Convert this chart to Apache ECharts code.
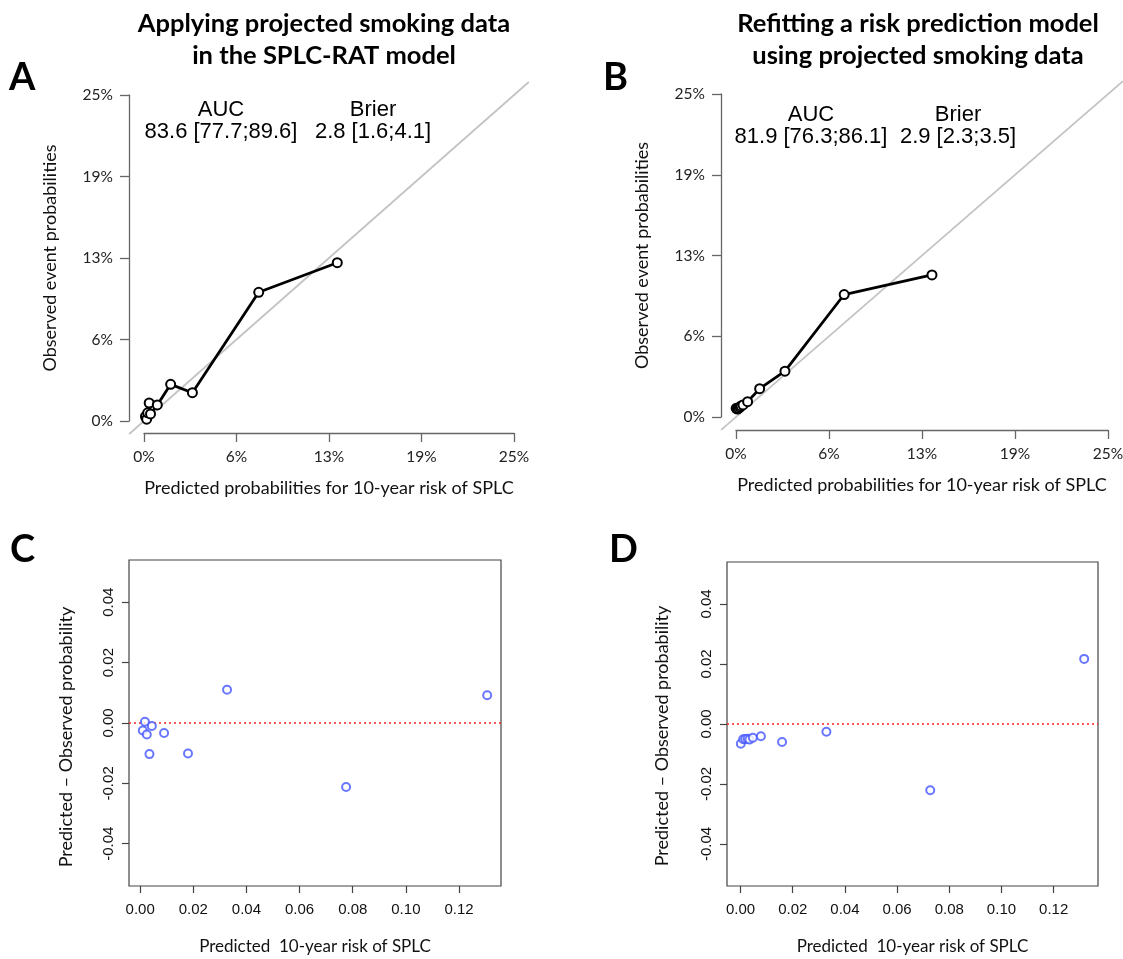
<!DOCTYPE html>
<html>
<head>
<meta charset="utf-8">
<script src="https://cdn.jsdelivr.net/npm/echarts@6/dist/echarts.min.js"></script>
<style>
  html, body { margin: 0; padding: 0; background: #fff; }
  #chart { width: 1123px; height: 959px; }
</style>
</head>
<body>
<div id="chart"></div>
<script>
// Panel A: SPLC-RAT model applied to projected smoking data (calibration by risk group)
const predA = [0.0010, 0.0018, 0.0025, 0.0035, 0.0044, 0.0090, 0.0180, 0.0327, 0.0775, 0.1306];
const obsA  = [0.0035, 0.0014, 0.0063, 0.0138, 0.0054, 0.0123, 0.0281, 0.0217, 0.0987, 0.1214];
// Panel C: predicted minus observed for the same groups
const diffA = [-0.0025, 0.0004, -0.0038, -0.0103, -0.0010, -0.0033, -0.0101, 0.0110, -0.0212, 0.0092];

// Panel B: refitted model
const predB = [0.0001, 0.0010, 0.0018, 0.0027, 0.0034, 0.0047, 0.0078, 0.0159, 0.0329, 0.0727, 0.1317];
const obsB  = [0.0067, 0.0061, 0.0068, 0.0076, 0.0086, 0.0093, 0.0119, 0.0219, 0.0355, 0.0948, 0.1100];
// Panel D: predicted minus observed
const diffB = [-0.0066, -0.0051, -0.0050, -0.0049, -0.0052, -0.0046, -0.0041, -0.0060, -0.0026, -0.0221, 0.0217];

// Reference diagonal (perfect calibration), spanning the padded plot region
const diagonal = [-0.01, 0.26];

// Axis ranges of the residual panels (data range plus 4% padding)
const residXRangeC = [-0.0042, 0.1358];
const residXRangeD = [-0.0052, 0.1370];
const residYRange = [-0.054, 0.054];

// Tick values
const residXTicks = [0, 0.02, 0.04, 0.06, 0.08, 0.10, 0.12];
const residYTicks = [-0.04, -0.02, 0.00, 0.02, 0.04];

// Header texts
const titleA = ['Applying projected smoking data', 'in the SPLC-RAT model'];
const titleB = ['Refitting a risk prediction model', 'using projected smoking data'];
const statsA = { auc: '83.6 [77.7;89.6]', brier: '2.8 [1.6;4.1]' };
const statsB = { auc: '81.9 [76.3;86.1]', brier: '2.9 [2.3;3.5]' };
const residYTitle = 'Predicted \u2013 Observed probability';

const zip = (xs, ys) => xs.map((x, i) => [x, ys[i]]);
const pct = v => Math.round(v * 100) + '%';

const CAL = 'Lato, "Open Sans", sans-serif';
const ARIAL = '"Liberation Sans", Arial, sans-serif';
const axisGrey = '#666';
const pointBlue = '#4455ff';

function calibXAxis(gridIndex, offset) {
  return {
    type: 'value', gridIndex, min: 0, max: 0.25, interval: 0.0625, offset,
    name: 'Predicted probabilities for 10-year risk of SPLC',
    nameLocation: 'middle', nameGap: 46,
    nameTextStyle: { fontFamily: CAL, fontSize: 18, color: '#111' },
    axisLine: { show: true, onZero: false, lineStyle: { color: axisGrey, width: 1.3 } },
    axisTick: { show: true, length: 9, lineStyle: { color: axisGrey, width: 1.3 } },
    axisLabel: { formatter: pct, fontFamily: CAL, fontSize: 15.5, color: '#222', margin: 16 },
    splitLine: { show: false }
  };
}
function calibYAxis(gridIndex, offset) {
  return {
    type: 'value', gridIndex, min: 0, max: 0.25, interval: 0.0625, offset,
    name: 'Observed event probabilities',
    nameLocation: 'middle', nameGap: 70, nameRotate: 90,
    nameTextStyle: { fontFamily: CAL, fontSize: 18, color: '#111' },
    axisLine: { show: true, onZero: false, lineStyle: { color: axisGrey, width: 1.3 } },
    axisTick: { show: true, length: 9, lineStyle: { color: axisGrey, width: 1.3 } },
    axisLabel: { formatter: pct, fontFamily: CAL, fontSize: 15.5, color: '#222', margin: 16 },
    splitLine: { show: false }
  };
}
function residXAxis(gridIndex, range) {
  return {
    type: 'value', gridIndex, min: range[0], max: range[1],
    name: 'Predicted  10-year risk of SPLC',
    nameLocation: 'middle', nameGap: 52,
    nameTextStyle: { fontFamily: CAL, fontSize: 17, color: '#111' },
    axisLine: { show: false, onZero: false },
    axisTick: { show: true, length: 7, customValues: residXTicks, lineStyle: { color: '#444', width: 1.2 } },
    axisLabel: { customValues: residXTicks, formatter: v => v.toFixed(2), fontFamily: ARIAL, fontSize: 15, color: '#111', margin: 16 },
    splitLine: { show: false }
  };
}
function residYAxis(gridIndex) {
  return {
    type: 'value', gridIndex, min: residYRange[0], max: residYRange[1],
    axisLine: { show: false, onZero: false },
    axisTick: { show: true, length: 7, customValues: residYTicks, lineStyle: { color: '#444', width: 1.2 } },
    axisLabel: { customValues: residYTicks, formatter: v => v.toFixed(2), rotate: 90, fontFamily: ARIAL, fontSize: 15, color: '#111', margin: 13 },
    splitLine: { show: false }
  };
}

function calibSeries(idx, xs, ys) {
  return {
    type: 'line', xAxisIndex: idx, yAxisIndex: idx, clip: false,
    data: zip(xs, ys), symbol: 'emptyCircle', symbolSize: 9, showAllSymbol: true,
    lineStyle: { color: '#000', width: 2.8 },
    itemStyle: { color: '#000', borderWidth: 2.6 }, z: 3
  };
}
function residSeries(idx, xs, ds) {
  return {
    type: 'scatter', xAxisIndex: idx, yAxisIndex: idx, clip: false,
    data: zip(xs, ds), symbol: 'emptyCircle', symbolSize: 8,
    itemStyle: { color: pointBlue, borderWidth: 1.3 }, z: 3
  };
}
// Horizontal zero reference in the residual panels
function zeroLine(idx, range) {
  return {
    type: 'line', xAxisIndex: idx, yAxisIndex: idx, silent: true,
    data: [[range[0], 0], [range[1], 0]], symbol: 'none',
    itemStyle: { color: '#ff2020' },
    lineStyle: { color: '#ff2020', type: [2, 3], width: 1.3 }, z: 2
  };
}

function text(t, x, y, font, extra) {
  return Object.assign({
    type: 'text', x, y,
    style: { text: t, font, textAlign: 'center', textVerticalAlign: 'middle', fill: '#000' }
  }, extra || {});
}
function letter(t, x, y) {
  return {
    type: 'text', x, y,
    style: {
      text: t, font: 'bold 38px ' + CAL, textAlign: 'left', textVerticalAlign: 'middle', fill: '#000',
      shadowColor: 'rgba(0,0,0,0.55)', shadowBlur: 3, shadowOffsetX: 1.5, shadowOffsetY: 1.5
    }
  };
}
function vtext(t, x, y, font) {
  return {
    type: 'text', x, y, rotation: Math.PI / 2,
    style: { text: t, font, textAlign: 'center', textVerticalAlign: 'middle', fill: '#111' }
  };
}

const titleFont = 'bold 25.5px ' + CAL;
const statFont = '22px ' + ARIAL;
const residTitleFont = '18px ' + CAL;

const option = {
  animation: false,
  backgroundColor: '#fff',
  grid: [
    { left: 144, top: 95, width: 370, height: 326, outerBoundsMode: 'none' },
    { left: 736, top: 94, width: 372, height: 323, outerBoundsMode: 'none' },
    { left: 129, top: 560, width: 372, height: 326, show: true, borderColor: '#444', borderWidth: 1.2, outerBoundsMode: 'none' },
    { left: 727, top: 562, width: 371, height: 324, show: true, borderColor: '#444', borderWidth: 1.2, outerBoundsMode: 'none' }
  ],
  xAxis: [
    calibXAxis(0, 12),
    calibXAxis(1, 13),
    residXAxis(2, residXRangeC),
    residXAxis(3, residXRangeD)
  ],
  yAxis: [
    calibYAxis(0, 15),
    calibYAxis(1, 15),
    residYAxis(2),
    residYAxis(3)
  ],
  series: [
    calibSeries(0, predA, obsA),
    calibSeries(1, predB, obsB),
    zeroLine(2, residXRangeC),
    zeroLine(3, residXRangeD),
    residSeries(2, predA, diffA),
    residSeries(3, predB, diffB)
  ],
  graphic: [
    text(titleA[0], 324, 24, titleFont),
    text(titleA[1], 324, 56, titleFont),
    text(titleB[0], 918, 24, titleFont),
    text(titleB[1], 918, 56, titleFont),
    letter('A', 9, 78),
    letter('B', 603, 78),
    letter('C', 10, 550),
    letter('D', 609, 550),
    text('AUC', 221, 110, statFont),
    text(statsA.auc, 221, 132, statFont),
    text('Brier', 373, 110, statFont),
    text(statsA.brier, 373, 132, statFont),
    text('AUC', 811, 115, statFont),
    text(statsB.auc, 811, 137, statFont),
    text('Brier', 958, 115, statFont),
    text(statsB.brier, 958, 137, statFont),
    vtext(residYTitle, 66, 737, residTitleFont),
    vtext(residYTitle, 662, 736, residTitleFont)
  ]
};

const chart = echarts.init(document.getElementById('chart'), null, { renderer: 'canvas' });
chart.setOption(option);

// Identity line for panels A and B, placed through each grid's own scale
const diagLines = [0, 1].map(g => {
  const p0 = chart.convertToPixel({ gridIndex: g }, [diagonal[0], diagonal[0]]);
  const p1 = chart.convertToPixel({ gridIndex: g }, [diagonal[1], diagonal[1]]);
  return {
    type: 'line', z: -1, silent: true,
    shape: { x1: p0[0], y1: p0[1], x2: p1[0], y2: p1[1] },
    style: { stroke: '#c4c4c4', lineWidth: 1.8 }
  };
});
chart.setOption({ graphic: option.graphic.concat(diagLines) });
</script>
</body>
</html>
